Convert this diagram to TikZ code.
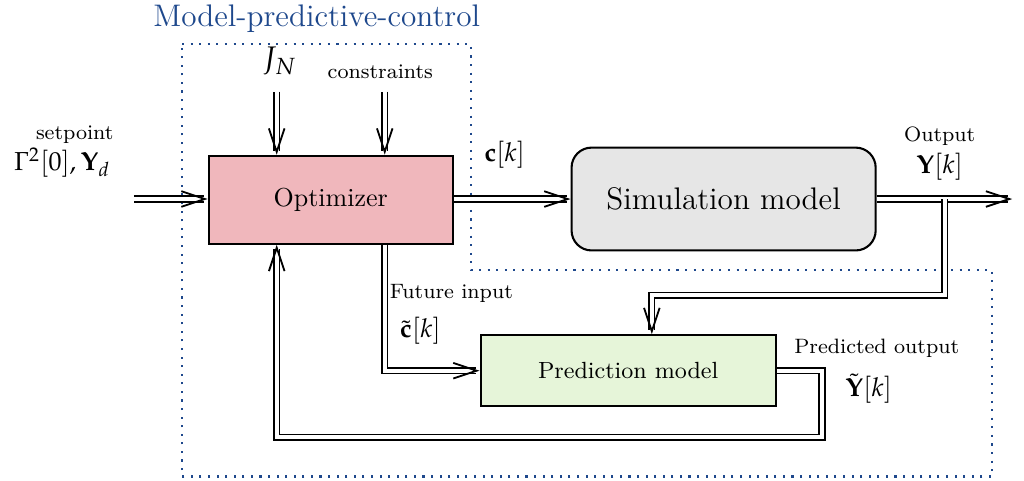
\documentclass[tikz,border=0pt]{standalone}
\usepackage{mathpazo}
\usepackage{amsmath}
\usepackage{amssymb}
\usepackage{color}
\usetikzlibrary{arrows.meta}
\usetikzlibrary{positioning}

\definecolor{optpink}{RGB}{240,183,188}
\definecolor{simgray}{RGB}{230,230,230}
\definecolor{predgreen}{RGB}{230,245,217}
\definecolor{mpcblue}{RGB}{30,72,140}

\begin{document}
\begin{tikzpicture}[
                    block/.style={draw, thick, fill=#1},
                    dline/.style={double, double distance=1.6pt, semithick, -{Straight Barb[length=9pt, width=6pt, line width=0.7pt]}},
                    smalllbl/.style={font=\footnotesize, inner sep=1pt},
                    mathlbl/.style={inner sep=1pt}
                ]
                    \useasboundingbox (0, 0) rectangle (13.84, 6.5);
                    \draw[mpcblue, thick, dash pattern=on 0.8pt off 2.5pt](2.46, 5.91)--(6.36, 5.91)--(6.36, 2.85)--(13.41, 2.85)--(13.41, 0.06)--(2.46, 0.06)--cycle;
                    \node[text=mpcblue, font=\large] (title) at (4.28, 6.25) {Model-predictive-control};
                    \node[block=optpink, minimum width=3.3cm, minimum height=1.19cm] (opt) at (4.47, 3.80) {Optimizer};
                    \node[block=simgray, rounded corners=0.27cm, minimum width=4.11cm, minimum height=1.39cm, font=\large] (sim) at (9.78, 3.81) {Simulation model};
                    \node[block=predgreen, minimum width=3.99cm, minimum height=0.96cm, font=\small] (pred) at (8.49, 1.49) {Prediction model};
                    \node[mathlbl] (jnlbl) at (3.78, 5.67) {\large $J_N$};
                    \node[smalllbl] (conslbl) at (5.14, 5.53) {constraints};
                    \node[smalllbl] (setlbl) at (1.01, 4.68) {setpoint};
                    \node[mathlbl] (reflbl) at (0.84, 4.30) {$\Gamma^2[0], \mathbf{Y}_d$};
                    \node[mathlbl] (clbl) at (6.82, 4.41) {$\mathbf{c}[k]$};
                    \node[smalllbl] (outlbl) at (12.70, 4.66) {Output};
                    \node[mathlbl] (ylbl) at (12.70, 4.24) {$\mathbf{Y}[k]$};
                    \node[smalllbl] (futlbl) at (6.10, 2.54) {Future input};
                    \node[mathlbl] (ctlbl) at (5.68, 2.03) {$\tilde{\mathbf{c}}[k]$};
                    \node[smalllbl] (predlbl) at (11.85, 1.79) {Predicted output};
                    \node[mathlbl] (ytlbl) at (11.74, 1.25) {$\tilde{\mathbf{Y}}[k]$};
                    \coordinate (jn) at (3.74, 5.26);
                    \coordinate (cons) at (5.20, 5.26);
                    \coordinate (setin) at (1.81, 3.81);
                    \coordinate (out) at (13.68, 3.81);
                    \coordinate (br) at (12.77, 3.81);
                    \coordinate (pin) at (8.81, 2.51);
                    \coordinate (fb) at (11.11, 0.59);
                    \draw[dline](jn)--(opt.north -| jn);
                    \draw[dline](cons)--(opt.north -| cons);
                    \draw[dline](setin)--(opt.west |- setin);
                    \draw[dline](opt.east |- sim.west)--(sim.west);
                    \draw[dline](sim.east)--(out);
                    \draw[dline](br)|-(pin)--(pred.north -| pin);
                    \draw[dline](opt.south -| cons)|-(pred.west);
                    \draw[dline](pred.east)-|(fb)-|(opt.south -| jn);
                \end{tikzpicture}
\end{document}
